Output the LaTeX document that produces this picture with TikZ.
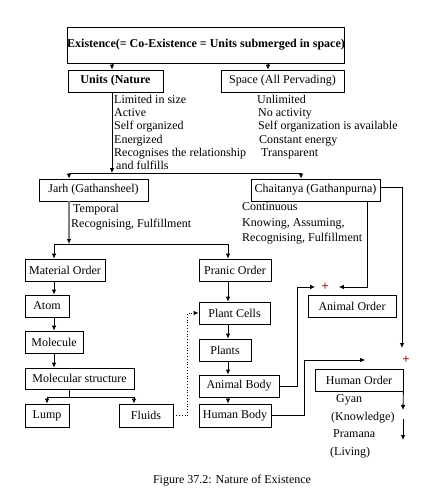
\documentclass[tikz,border=0pt]{standalone}
\usepackage{fontspec}
\setmainfont{Liberation Serif}
\usetikzlibrary{arrows.meta, positioning, calc}
\definecolor{plusRed}{RGB}{150,20,20}
\definecolor{jarhGray}{RGB}{128,128,128}

\begin{document}
\begin{tikzpicture}[x=1pt, y=-1pt,
  box/.style={rectangle, draw, line width=0.8pt, minimum height=22pt,
              inner sep=1pt, font=\fontsize{12}{14}\selectfont},
  note/.style={anchor=north west, inner sep=0pt, align=left,
               font=\fontsize{12}{#1}\selectfont},
  note/.default=13.2,
  arr/.style={-{Latex[length=5pt, width=4.5pt]}, line width=0.8pt},
  plus/.style={text=plusRed, inner sep=2pt, font=\fontsize{13}{14}\selectfont\bfseries}
]
  \useasboundingbox (0,0) rectangle (427,503);

  \node[box, minimum width=276pt, minimum height=36pt, inner xsep=0pt,
        font=\fontsize{12}{14}\selectfont\bfseries] (exist) at (206,45)
    {Existence(= Co-Existence = Units submerged in space)};
  \node[box, minimum width=95pt, font=\fontsize{12}{14}\selectfont\bfseries]
    (units) at (115.5,81) {Units (Nature};
  \node[box, minimum width=123pt] (space)   at (282.5,81)  {Space (All Pervading)};
  \node[box, minimum width=109pt] (jarh)    at (93.5,190)  {Jarh (Gathansheel)};
  \node[box, minimum width=129pt] (chait)   at (315.5,190) {Chaitanya (Gathanpurna)};
  \node[box, minimum width=80pt]  (matord)  at (65,270)    {Material Order};
  \node[box, minimum width=72pt]  (pranic)  at (235,270)   {Pranic Order};
  \node[box, minimum width=44pt]  (atom)    at (47,306)    {Atom};
  \node[box, minimum width=88pt]  (animord) at (352,306)   {Animal Order};
  \node[box, minimum width=71pt]  (cells)   at (234.5,313) {Plant Cells};
  \node[box, minimum width=58pt]  (molec)   at (54,342)    {Molecule};
  \node[box, minimum width=52pt]  (plants)  at (225,350)   {Plants};
  \node[box, minimum width=109pt, minimum height=21pt]
    (molstr) at (79.5,378.5) {Molecular structure};
  \node[box, minimum width=80pt]  (abody)   at (239,386)   {Animal Body};
  \node[box, minimum width=88pt]  (humord)  at (359,380)   {Human Order};
  \node[box, minimum width=44pt, minimum height=23pt] (lump)   at (47,415.5)  {Lump};
  \node[box, minimum width=54pt, minimum height=23pt] (fluids) at (146,415.5) {Fluids};
  \node[box, minimum width=72pt, minimum height=23pt] (hbody)  at (235,415.5) {Human Body};

  \node[note] (unitsTxt) at (114,95)
    {Limited in size\\Active\\Self organized\\Energized\\Recognises the relationship\\\hspace{2pt}and fulfills};
  \node[note] (spaceTxt) at (257,95)
    {Unlimited\\\hspace{1pt}No activity\\\hspace{1pt}Self organization is available\\\hspace{2pt}Constant energy\\\hspace{4pt}Transparent};
  \node[note=15] (jarhTxt) at (71,203.5) {\hspace{2pt}Temporal\\Recognising, Fulfillment};
  \node[note=15.5] (chaitTxt) at (242,202.5) {Continuous\\Knowing, Assuming,\\Recognising, Fulfillment};
  \node[note=17.5] (gyanTxt) at (331,394.5) {\hspace{5pt}Gyan\\(Knowledge)};
  \node[note=17.5] (pramTxt) at (330,429.5) {\hspace{3pt}Pramana\\(Living)};
  \node[plus] (plusA) at (325,287) {+};
  \node[plus] (plusB) at (406,360) {+};
  \node[font=\fontsize{12}{14}\selectfont] (caption) at (232,481)
    {Figure 37.2: Nature of Existence};

  \coordinate (uSplit) at (112,173);
  \coordinate (jSplit) at (69,244);
  \coordinate (mSplit) at (69,397);
  \coordinate (humTop) at (402,348);
  \coordinate (gyanEnd) at (403,410);
  \coordinate (pramTop) at (403,419);
  \coordinate (pramEnd) at (403,440);

  \draw[arr] (exist.south -| uSplit) -- (units.north -| uSplit);
  \draw[arr] (exist.south -| 268,0) -- (space.north -| 268,0);
  \draw[arr] (units.south -| uSplit) -- (uSplit);
  \draw[arr] (uSplit) -| (jarh.north -| jSplit);
  \draw[arr] (uSplit) -| (chait.north -| 301,0);
  \draw[jarhGray, line width=1.6pt, -{Latex[length=5pt, width=4.5pt, color=black]}]
    (jarh.south -| jSplit) -- (jSplit);
  \draw[arr] (jSplit) -| (matord.north -| 54,0);
  \draw[arr] (jSplit) -| (pranic.north -| 228,0);
  \foreach \a/\b in {matord/atom, atom/molec, molec/molstr}
    \draw[arr] (\a.south -| 54,0) -- (\b.north -| 54,0);
  \foreach \a/\b in {pranic/cells, cells/plants, plants/abody, abody/hbody}
    \draw[arr] (\a.south -| 228,0) -- (\b.north -| 228,0);
  \draw[line width=0.8pt] (molstr.south -| mSplit) -- (mSplit);
  \draw[arr] (mSplit) -| (lump.north);
  \draw[arr] (mSplit) -| (fluids.north -| 134,0);
  \draw[arr, dotted] (fluids.east) -- ++(14,0) |- (cells.west);
  \draw[arr] (abody.east) -- ++(18,0) |- ([xshift=-4pt]plusA.west);
  \draw[arr] (chait.south -| 367,0) |- ([xshift=8pt]plusA.east);
  \draw[arr] (hbody.east) -- ++(33,0) |- ([xshift=-35pt]plusB.west);
  \draw[arr] ([yshift=3pt]chait.east) -| (humTop);
  \draw[arr] (humord.south east) -- (gyanEnd);
  \draw[arr] (pramTop) -- (pramEnd);
\end{tikzpicture}
\end{document}
